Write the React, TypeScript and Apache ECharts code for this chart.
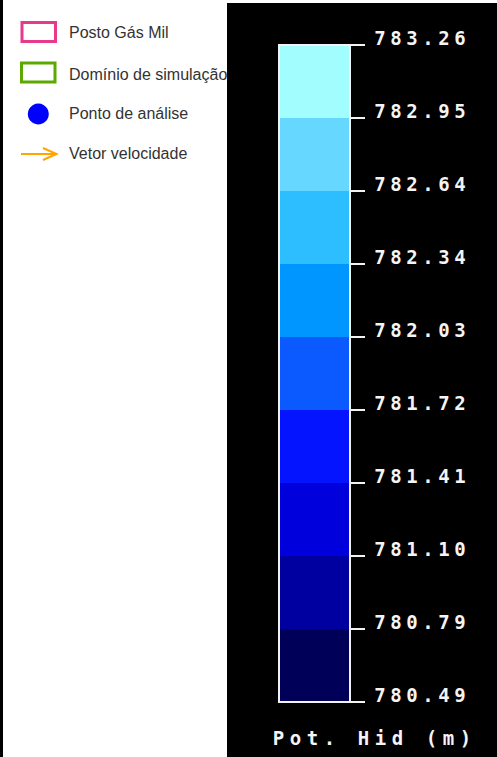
import { useEffect, useRef } from "react";
import * as echarts from "echarts";

// Colour-scale tick values, bottom to top (Pot. Hid, metres)
const tickLabels = [
  "780.49", "780.79", "781.10", "781.41", "781.72",
  "782.03", "782.34", "782.64", "782.95", "783.26",
];
// One colour per band between consecutive ticks, bottom to top
const bandColors = [
  "#000058", "#0000a0", "#0000dc", "#0514ff", "#0a5aff",
  "#0096ff", "#2cbeff", "#66d8ff", "#a2fdff",
];
const legendLabels = ["Posto Gás Mil", "Domínio de simulação", "Ponto de análise", "Vetor velocidade"];
const scaleTitle = "Pot. Hid (m)";

const MONO = "'DejaVu Sans Mono', monospace";
const SANS = "'Liberation Sans', Arial, sans-serif";

// Spread each character over a fixed-width cell, like the wide raster font of the scale
const spaced = (s: string) => s.split("").map((ch) => `{c|${ch}}`).join("");

export default function App() {
  const ref = useRef<HTMLDivElement>(null);

  useEffect(() => {
    if (!ref.current) return;
    const chart = echarts.init(ref.current, undefined, { renderer: "svg" });

    const legendY = [32, 74, 113.5, 153.5];
    const legendText = legendLabels.map((label, i) => ({
      type: "text",
      z: 0,
      style: {
        x: 69,
        y: legendY[i],
        text: label,
        fill: "#333",
        font: `16px ${SANS}`,
        verticalAlign: "middle",
        align: "left",
      },
    }));

    const option: any = {
      animation: false,
      backgroundColor: "#fff",
      grid: {
        left: 279,
        top: 45,
        width: 71,
        height: 657,
        show: true,
        z: 5,
        backgroundColor: "transparent",
        borderColor: "#f2f2f2",
        borderWidth: 2,
      },
      xAxis: {
        type: "category",
        data: [""],
        show: false,
      },
      yAxis: {
        type: "value",
        position: "right",
        min: 0,
        max: tickLabels.length - 1,
        interval: 1,
        z: 5,
        splitLine: { show: false },
        axisLine: { show: true, lineStyle: { color: "#f2f2f2", width: 2 } },
        axisTick: { show: true, length: 15, lineStyle: { color: "#f2f2f2", width: 2 } },
        axisLabel: {
          margin: 22,
          padding: [0, 0, 14, 0],
          formatter: (v: number) => spaced(tickLabels[Math.round(v)] ?? ""),
          rich: {
            c: {
              width: 16,
              align: "center",
              color: "#f4f4f4",
              fontFamily: MONO,
              fontSize: 19,
              fontWeight: "bold",
            },
          },
        },
      },
      series: bandColors.map((color, i) => ({
        type: "bar",
        stack: "scale",
        name: `${tickLabels[i]} – ${tickLabels[i + 1]}`,
        data: [1],
        barWidth: "100%",
        itemStyle: { color },
        silent: true,
      })),
      graphic: [
        // thin dark rule along the left edge
        { type: "rect", z: 0, shape: { x: 0, y: 0, width: 3, height: 757 }, style: { fill: "#000" } },
        // legend symbols
        {
          type: "rect", z: 0,
          shape: { x: 22, y: 22.5, width: 33.5, height: 19 },
          style: { fill: "#fff", stroke: "#e8398d", lineWidth: 3 },
        },
        {
          type: "rect", z: 0,
          shape: { x: 21.5, y: 63, width: 33.5, height: 19 },
          style: { fill: "#fff", stroke: "#5aa800", lineWidth: 3 },
        },
        {
          type: "circle", z: 0,
          shape: { cx: 38.3, cy: 114, r: 10.5 },
          style: { fill: "#0000ff" },
        },
        {
          type: "line", z: 0,
          shape: { x1: 21, y1: 154, x2: 56, y2: 154 },
          style: { stroke: "#ffa500", lineWidth: 2 },
        },
        {
          type: "polyline", z: 0,
          shape: { points: [[43, 148], [56.5, 154], [43, 160]] },
          style: { stroke: "#ffa500", lineWidth: 2, fill: null },
        },
        ...legendText,
        // dark panel behind the colour scale
        { type: "rect", z: 1, shape: { x: 227, y: 3, width: 270, height: 754 }, style: { fill: "#000" } },
        // scale title
        {
          type: "text",
          z: 6,
          style: {
            x: 270,
            y: 738,
            text: spaced(scaleTitle),
            verticalAlign: "middle",
            align: "left",
            rich: {
              c: {
                width: 17,
                align: "center",
                fill: "#f4f4f4",
                fontFamily: MONO,
                fontSize: 19,
                fontWeight: "bold",
              },
            },
          },
        },
      ],
    };

    chart.setOption(option);
    return () => chart.dispose();
  }, []);

  return (
    <div
      ref={ref}
      style={{ position: "fixed", left: 0, top: 0, width: 497, height: 757 }}
    />
  );
}
